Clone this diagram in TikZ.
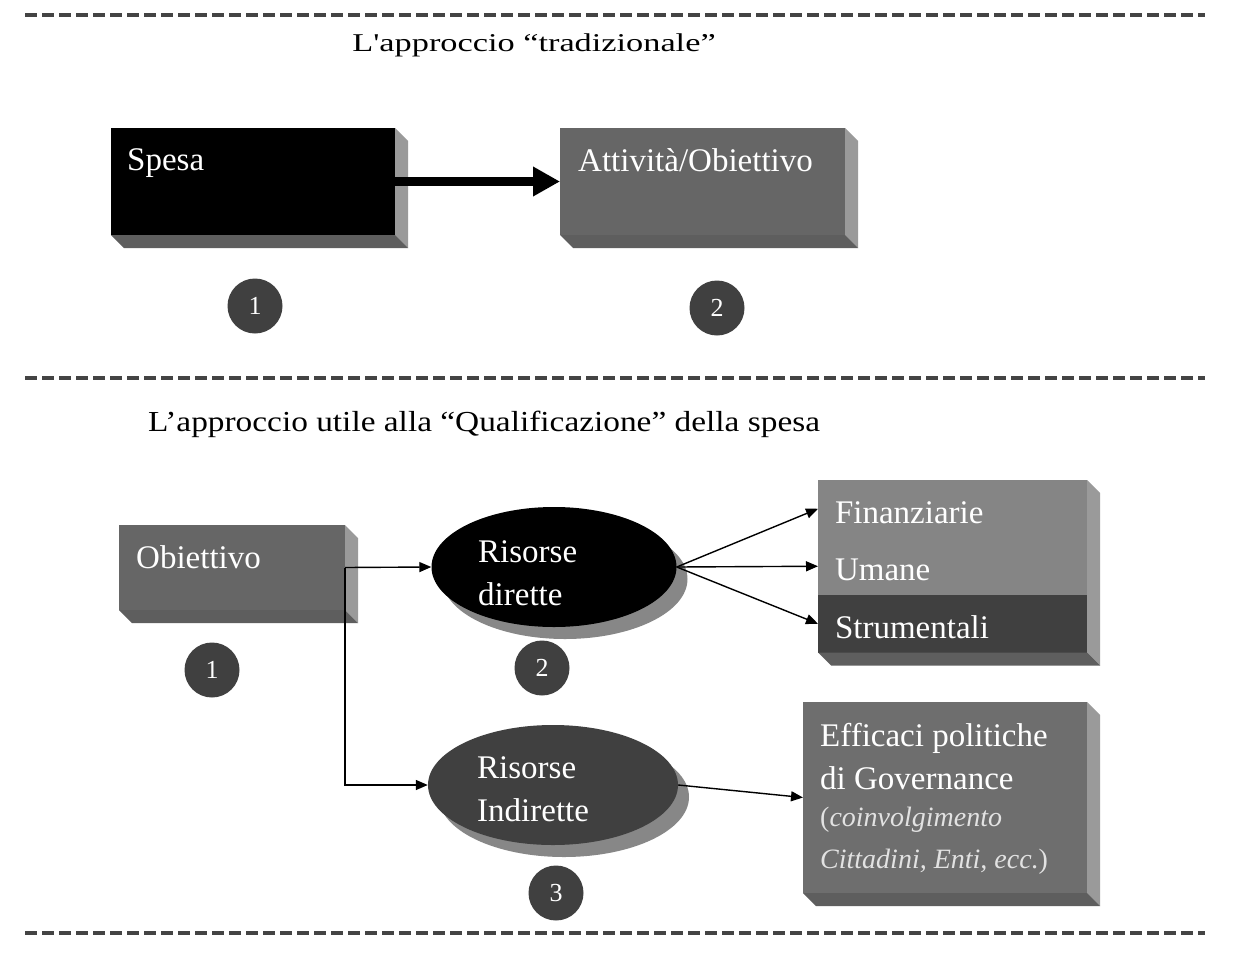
\documentclass[tikz,border=0pt]{standalone}
\usepackage{fontspec}
\setmainfont{Liberation Serif}
\usepackage{graphicx}
\usetikzlibrary{arrows.meta,positioning,shapes.geometric}

\definecolor{darkface}{HTML}{404040}
\definecolor{midface}{HTML}{666666}
\definecolor{lightface}{HTML}{858585}
\definecolor{effface}{HTML}{6E6E6E}
\definecolor{sideface}{HTML}{9A9A9A}
\definecolor{lowface}{HTML}{5E5E5E}
\definecolor{ovalshadow}{HTML}{878787}
\definecolor{rulegray}{HTML}{444444}
\definecolor{notegray}{HTML}{E2E2E2}

\newcommand{\boxfont}{\fontsize{33}{43}\selectfont}
\newcommand{\notefont}{\fontsize{28}{42}\selectfont\itshape}

% side and bottom faces of a block (top node, bottom node, colours)
\newcommand{\bevel}[4]{%
  \fill[#3] (#1.north east) -- ([shift={(13,13)}]#1.north east)
    -- ([shift={(13,13)}]#2.south east) -- (#2.south east) -- cycle;
  \fill[#4] (#2.south west) -- ([shift={(13,13)}]#2.south west)
    -- ([shift={(13,13)}]#2.south east) -- (#2.south east) -- cycle;}

\tikzset{
  rule/.style={rulegray, line width=3.3pt, dash pattern=on 12pt off 5pt},
  title/.style={anchor=base, inner sep=0pt},
  plate/.style={rectangle, anchor=north west, inner sep=0pt, outer sep=0pt},
  inplate/.style={inner sep=0pt, anchor=north west, text=white, font=\boxfont, align=left},
  row/.style={plate, minimum width=269pt, minimum height=57.5pt, inner xsep=17pt,
    text width=235pt, align=left, text=white, font=\boxfont, text height=29pt, text depth=0pt},
  oval/.style={ellipse, minimum width=245pt, minimum height=120pt, inner sep=0pt},
  num/.style={circle, fill=darkface, minimum size=55pt, inner sep=0pt, text=white,
    font=\fontsize{26}{26}\selectfont},
  link/.style={-{Triangle[length=12pt,width=10pt]}, line width=1.4pt},
  bigarrow/.style={-{Triangle[length=27pt,width=28pt]}, line width=9pt}
}

\begin{document}
\begin{tikzpicture}[x=1pt,y=-1pt]
  \fill[white] (0,0) rectangle (1234,953);
  \useasboundingbox (0,0) rectangle (1234,953);

  \draw[rule] (25,15) -- (1205,15);
  \draw[rule] (25,378) -- (1205,378);
  \draw[rule] (25,933) -- (1205,933);

  \node[title] (t1) at (534,51) {\scalebox{1.34}[1]{\fontsize{25.6}{26}\selectfont L\textquotesingle approccio “tradizionale”}};
  \node[title] (t2) at (484,431) {\scalebox{1.15}[1]{\fontsize{29}{29}\selectfont L’approccio utile alla “Qualificazione” della spesa}};

  % traditional approach
  \node[plate, fill=black, minimum width=284pt, minimum height=107pt] (spesa) at (111,128) {};
  \node[plate, fill=midface, minimum width=285pt, minimum height=107pt] (att) at (560,128) {};
  \bevel{spesa}{spesa}{sideface}{lowface}
  \bevel{att}{att}{sideface}{lowface}
  \node[inplate, below right=20pt and 16pt of spesa.north west] (spesa-t) {Spesa};
  \node[inplate, below right=20pt and 18pt of att.north west] (att-t) {Attività/Obiettivo};
  \draw[bigarrow] (spesa) -- (att);

  \node[num] (n1) at (255,306) {1};
  \node[num] (n2) at (717,308) {2};

  % qualification approach
  \node[plate, fill=midface, minimum width=226pt, minimum height=85pt] (obj) at (119,525) {};
  \bevel{obj}{obj}{sideface}{lowface}
  \node[inplate, below right=20pt and 17pt of obj.north west] (obj-t) {Obiettivo};

  \fill[ovalshadow] (565,579) ellipse [x radius=122.5, y radius=60];
  \node[oval, fill=black] (rd) at (554,567) {};
  \node[inplate] (rd-t) at (478,540) {Risorse\\dirette};

  \fill[ovalshadow] (564,797) ellipse [x radius=125, y radius=60];
  \node[oval, fill=darkface, minimum width=250pt] (ri) at (553,785) {};
  \node[inplate] (ri-t) at (477,756) {Risorse\\Indirette};

  \node[row, fill=lightface] (fin) at (818,480) {Finanziarie};
  \node[row, fill=lightface, below=0pt of fin] (uma) {Umane};
  \node[row, fill=darkface, below=0pt of uma] (str) {Strumentali};
  \bevel{fin}{str}{sideface}{lowface}

  \node[plate, fill=effface, minimum width=284pt, minimum height=191pt] (eff) at (803,702) {};
  \bevel{eff}{eff}{sideface}{lowface}
  \node[inplate, below right=21pt and 17pt of eff.north west] (eff-t) {Efficaci politiche\\di Governance};
  \node[inplate, font=\notefont, text=notegray, anchor=north west] (eff-n) at ([yshift=-17pt]eff-t.south west)
    {{\upshape(}coinvolgimento\\Cittadini, Enti, ecc.{\upshape)}};

  \node[num] (n1b) at (212,670) {1};
  \node[num] (n2b) at (542,668) {2};
  \node[num] (n3b) at (556,893) {3};

  \draw[link] (obj.east) -- (rd.west);
  \draw[link] (obj.east) |- (ri.west);
  \draw[link] (rd.east) -- (fin.west);
  \draw[link] (rd.east) -- (uma.west);
  \draw[link] (rd.east) -- (str.west);
  \draw[link] (ri.east) -- (eff.west);
\end{tikzpicture}
\end{document}
